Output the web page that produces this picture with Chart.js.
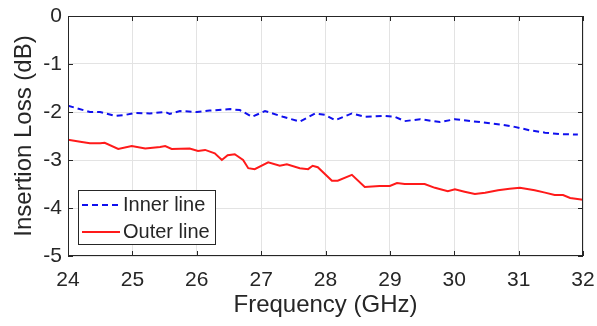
<!DOCTYPE html>
<html>
<head>
<meta charset="utf-8">
<script src="https://cdn.jsdelivr.net/npm/chart.js@4"></script>
<style>
  html, body { margin: 0; padding: 0; background: #fff; }
  #wrap { width: 597px; height: 326px; position: relative; }
</style>
</head>
<body>
<div id="wrap"><canvas id="lossChart"></canvas></div>
<script>
// frequency (GHz) / insertion loss (dB)
const innerFreq = [24.00, 24.34, 24.50, 24.73, 24.89, 25.04, 25.27, 25.51, 25.58, 25.74, 26.00, 26.20, 26.52, 26.67, 26.86, 27.06, 27.34, 27.60, 27.84, 27.99, 28.15, 28.41, 28.61, 28.92, 29.08, 29.23, 29.47, 29.78, 30.01, 30.40, 30.71, 30.94, 31.17, 31.41, 31.64, 31.92];
const innerLoss = [-1.87, -2.00, -2.00, -2.08, -2.06, -2.02, -2.03, -2.00, -2.04, -1.98, -2.00, -1.97, -1.94, -1.96, -2.10, -1.98, -2.10, -2.20, -2.03, -2.06, -2.17, -2.03, -2.10, -2.08, -2.10, -2.19, -2.15, -2.21, -2.15, -2.21, -2.26, -2.31, -2.38, -2.43, -2.46, -2.47];

const outerFreq = [24.00, 24.19, 24.34, 24.50, 24.57, 24.78, 24.99, 25.20, 25.43, 25.51, 25.61, 25.89, 26.02, 26.13, 26.28, 26.39, 26.48, 26.59, 26.72, 26.80, 26.90, 27.11, 27.29, 27.40, 27.60, 27.73, 27.80, 27.88, 28.10, 28.19, 28.41, 28.61, 28.84, 29.00, 29.11, 29.23, 29.54, 29.70, 29.90, 30.01, 30.16, 30.32, 30.48, 30.68, 30.86, 31.02, 31.25, 31.41, 31.56, 31.69, 31.80, 32.00];
const outerLoss = [-2.58, -2.62, -2.65, -2.65, -2.64, -2.77, -2.71, -2.76, -2.73, -2.71, -2.77, -2.76, -2.81, -2.79, -2.86, -3.00, -2.90, -2.88, -3.00, -3.17, -3.19, -3.05, -3.12, -3.09, -3.17, -3.19, -3.12, -3.15, -3.43, -3.43, -3.31, -3.56, -3.54, -3.54, -3.48, -3.50, -3.50, -3.58, -3.65, -3.61, -3.66, -3.71, -3.68, -3.63, -3.60, -3.58, -3.63, -3.68, -3.73, -3.73, -3.79, -3.83];

const seriesNames = ['Inner line', 'Outer line'];
const xTicks = [24, 25, 26, 27, 28, 29, 30, 31, 32];
const yTicks = [0, -1, -2, -3, -4, -5];

const textColor = '#262626';
const fontFamily = 'Arial, "Liberation Sans", sans-serif';

function toPoints(xs, ys) {
    return xs.map((x, i) => ({ x: x, y: ys[i] }));
}

// box around the plot area, inward ticks, and the legend in the lower-left corner
const boxAndLegend = {
    id: 'boxAndLegend',
    afterDraw(chart) {
        const ctx = chart.ctx;
        const a = chart.chartArea;
        const xs = chart.scales.x, ys = chart.scales.y;
        ctx.save();
        ctx.strokeStyle = '#262626';
        ctx.lineWidth = 1;
        ctx.strokeRect(a.left + 0.5, a.top + 0.5, a.right - a.left - 1, a.bottom - a.top - 1);

        // small inward ticks on all four sides
        ctx.beginPath();
        xTicks.forEach(v => {
            const px = Math.round(xs.getPixelForValue(v)) + 0.5;
            ctx.moveTo(px, a.bottom); ctx.lineTo(px, a.bottom - 5);
            ctx.moveTo(px, a.top); ctx.lineTo(px, a.top + 5);
        });
        yTicks.forEach(v => {
            const py = Math.round(ys.getPixelForValue(v)) + 0.5;
            ctx.moveTo(a.left, py); ctx.lineTo(a.left + 5, py);
            ctx.moveTo(a.right, py); ctx.lineTo(a.right - 5, py);
        });
        ctx.stroke();

        const bx = a.left + 10, by = 190, bw = 137, bh = 54;
        ctx.fillStyle = '#fff';
        ctx.fillRect(bx, by, bw, bh);
        ctx.strokeRect(bx + 0.5, by + 0.5, bw, bh);

        ctx.font = '20px ' + fontFamily;
        ctx.textBaseline = 'middle';
        chart.data.datasets.forEach((ds, i) => {
            const y = by + 15 + i * 27;
            ctx.strokeStyle = ds.borderColor;
            ctx.lineWidth = ds.borderWidth;
            ctx.setLineDash(ds.borderDash || []);
            ctx.beginPath();
            ctx.moveTo(bx + 4, y);
            ctx.lineTo(bx + 42, y);
            ctx.stroke();
            ctx.setLineDash([]);
            ctx.fillStyle = textColor;
            ctx.fillText(ds.label, bx + 45, y);
        });
        ctx.restore();
    }
};

document.addEventListener('DOMContentLoaded', function() {
    const ctx = document.getElementById('lossChart').getContext('2d');
    new Chart(ctx, {
        type: 'line',
        data: {
            datasets: [{
                label: seriesNames[0],
                data: toPoints(innerFreq, innerLoss),
                borderColor: '#1010ee',
                borderWidth: 2,
                borderDash: [6, 4],
                pointRadius: 0,
                tension: 0
            }, {
                label: seriesNames[1],
                data: toPoints(outerFreq, outerLoss),
                borderColor: '#ff1a1a',
                borderWidth: 2,
                pointRadius: 0,
                tension: 0
            }]
        },
        options: {
            responsive: true,
            maintainAspectRatio: false,
            animation: false,
            layout: { padding: { top: 16, right: 14, bottom: 0, left: 0 } },
            plugins: {
                legend: { display: false },
                tooltip: { enabled: false }
            },
            scales: {
                x: {
                    type: 'linear',
                    min: 24,
                    max: 32,
                    afterBuildTicks: scale => { scale.ticks = xTicks.map(v => ({ value: v })); },
                    afterFit: scale => {
                        scale.height = 70;
                        scale.paddingLeft = 0;
                        scale.paddingRight = 0;
                    },
                    grid: { color: '#e3e3e3', drawTicks: false },
                    border: { display: false },
                    ticks: {
                        color: textColor,
                        padding: 12,
                        font: { size: 21, family: fontFamily }
                    },
                    title: {
                        display: true,
                        text: 'Frequency (GHz)',
                        color: textColor,
                        font: { size: 24, family: fontFamily },
                        padding: { top: 0, bottom: 6 }
                    }
                },
                y: {
                    min: -5,
                    max: 0,
                    afterBuildTicks: scale => { scale.ticks = yTicks.map(v => ({ value: v })); },
                    afterFit: scale => {
                        scale.width = 68;
                        scale.paddingTop = 0;
                        scale.paddingBottom = 0;
                    },
                    grid: { color: '#e3e3e3', drawTicks: false },
                    border: { display: false },
                    ticks: {
                        color: textColor,
                        padding: 6,
                        font: { size: 21, family: fontFamily }
                    },
                    title: {
                        display: true,
                        text: 'Insertion Loss (dB)',
                        color: textColor,
                        font: { size: 24, family: fontFamily },
                        padding: { top: 10, bottom: 0 }
                    }
                }
            }
        },
        plugins: [boxAndLegend]
    });
});
</script>
</body>
</html>
